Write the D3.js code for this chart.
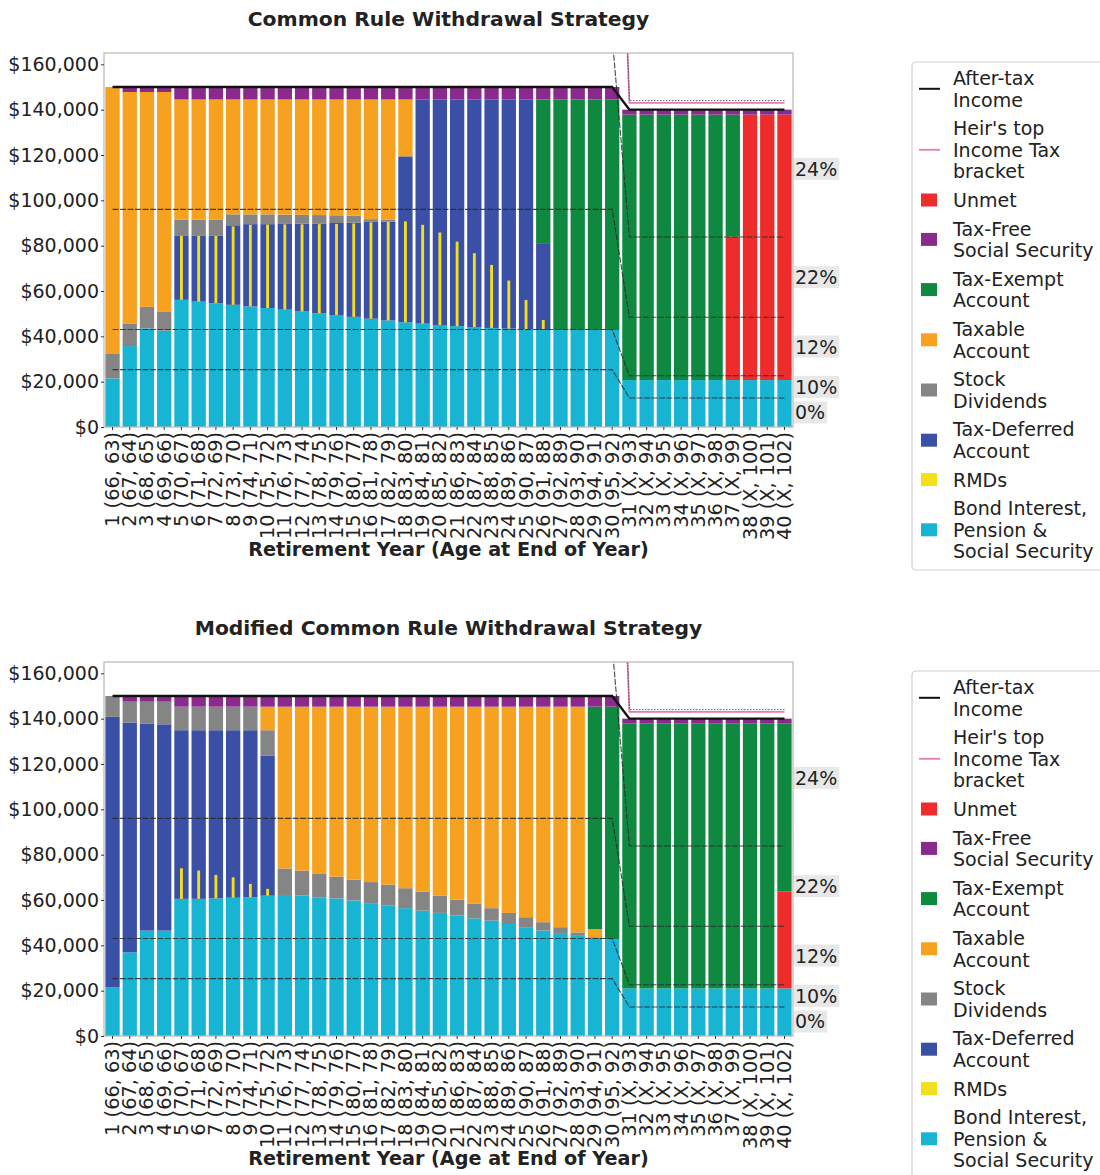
<!DOCTYPE html>
<html><head><meta charset="utf-8">
<script src="https://cdn.jsdelivr.net/npm/d3@7"></script>
<style>
body{margin:0;background:#fff}
svg{display:block}
text{font-family:"DejaVu Sans",sans-serif;fill:#222}
</style>
</head><body>
<svg id="c" width="1100" height="1175"></svg>
<script>
// ---------- tick labels ----------
const yearLabels = ["1 (66, 63)","2 (67, 64)","3 (68, 65)","4 (69, 66)","5 (70, 67)","6 (71, 68)","7 (72, 69)","8 (73, 70)","9 (74, 71)","10 (75, 72)",
"11 (76, 73)","12 (77, 74)","13 (78, 75)","14 (79, 76)","15 (80, 77)","16 (81, 78)","17 (82, 79)","18 (83, 80)","19 (84, 81)","20 (85, 82)",
"21 (86, 83)","22 (87, 84)","23 (88, 85)","24 (89, 86)","25 (90, 87)","26 (91, 88)","27 (92, 89)","28 (93, 90)","29 (94, 91)","30 (95, 92)",
"31 (X, 93)","32 (X, 94)","33 (X, 95)","34 (X, 96)","35 (X, 97)","36 (X, 98)","37 (X, 99)","38 (X, 100)","39 (X, 101)","40 (X, 102)"];
const yTicks = [0,20,40,60,80,100,120,140,160]; // thousands of dollars

// ---------- chart 1: Common Rule (values in $1000) ----------
const bondA = [21.4,35.7,43.5,42.5,56.1,55.3,54.6,53.9,53.2,52.5,51.8,51.0,50.2,49.4,48.6,47.8,47.0,46.2,45.6,45.0,44.5,44.1,43.7,43.4,43.1,42.8,42.8,42.8,42.8,42.8,20.7,20.7,20.7,20.7,20.7,20.7,20.7,20.7,20.7,20.7];
const rmdA = [0,0,0,0,28.2,29.0,29.7,34.6,36.0,36.8,37.6,38.4,39.3,40.2,41.2,42.5,43.5,44.5,43.6,40.8,37.3,32.6,27.8,21.2,12.9,4.4,0,0,0,0,0,0,0,0,0,0,0,0,0,0];
const taxDefA = [0,0,0,0,28.2,29.0,29.7,35.1,36.3,37.0,37.8,38.7,39.6,40.6,41.6,42.7,43.6,73.2,98.9,99.5,100.0,100.4,100.8,101.1,101.4,38.3,0,0,0,0,0,0,0,0,0,0,0,0,0,0];
const divA = [11.1,10.0,9.5,8.5,7.1,7.1,7.1,4.8,4.3,4.3,4.1,3.9,3.7,3.4,3.0,1.2,0.9,0,0,0,0,0,0,0,0,0,0,0,0,0,0,0,0,0,0,0,0,0,0,0];
const taxableA = [117.5,102.1,94.8,96.8,53.1,53.1,53.1,50.7,50.7,50.7,50.8,50.9,51.0,51.1,51.3,52.8,53.0,25.1,0,0,0,0,0,0,0,0,0,0,0,0,0,0,0,0,0,0,0,0,0,0];
const unmetA = [0,0,0,0,0,0,0,0,0,0,0,0,0,0,0,0,0,0,0,0,0,0,0,0,0,0,0,0,0,0,0,0,0,0,0,0,63.3,117.1,117.1,117.1];
const exemptA = [0,0,0,0,0,0,0,0,0,0,0,0,0,0,0,0,0,0,0,0,0,0,0,0,0,63.4,101.7,101.7,101.7,101.7,117.1,117.1,117.1,117.1,117.1,117.1,53.8,0,0,0];
const freeSSA = [0,2.2,2.2,2.2,5.5,5.5,5.5,5.5,5.5,5.5,5.5,5.5,5.5,5.5,5.5,5.5,5.5,5.5,5.5,5.5,5.5,5.5,5.5,5.5,5.5,5.5,5.5,5.5,5.5,5.5,2.2,2.2,2.2,2.2,2.2,2.2,2.2,2.2,2.2,2.2];

// ---------- chart 2: Modified Common Rule ----------
const bondB = [21.4,36.9,46.5,46.5,60.5,60.5,60.7,61.0,61.2,61.9,62.2,62.0,61.2,60.7,59.8,58.6,57.5,56.4,55.3,54.3,53.1,51.9,50.9,49.4,48.0,46.5,45.4,44.5,43.6,42.8,21.0,21.0,21.0,21.0,21.0,21.0,21.0,21.0,21.0,21.0];
const rmdB = [0,0,0,0,13.5,12.5,10.4,9.0,5.9,3.0,0,0,0,0,0,0,0,0,0,0,0,0,0,0,0,0,0,0,0,0,0,0,0,0,0,0,0,0,0,0];
const taxDefB = [119.4,101.4,91.4,91.0,74.4,74.4,74.2,73.9,73.7,61.7,0,0,0,0,0,0,0,0,0,0,0,0,0,0,0,0,0,0,0,0,0,0,0,0,0,0,0,0,0,0];
const divB = [9.2,9.2,9.6,10.0,10.4,10.4,10.4,10.4,10.4,11.3,11.7,11.0,10.3,9.6,9.2,9.3,9.3,8.8,8.4,7.6,7.1,6.4,5.5,4.9,4.4,3.7,2.6,1.2,0,0,0,0,0,0,0,0,0,0,0,0];
const taxableB = [0,0,0,0,0,0,0,0,0,10.4,71.4,72.3,73.8,75.0,76.3,77.4,78.5,80.1,81.6,83.4,85.1,87.0,88.9,91.0,92.9,95.1,97.3,99.6,3.6,0,0,0,0,0,0,0,0,0,0,0];
const unmetB = [0,0,0,0,0,0,0,0,0,0,0,0,0,0,0,0,0,0,0,0,0,0,0,0,0,0,0,0,0,0,0,0,0,0,0,0,0,0,0,42.7];
const exemptB = [0,0,0,0,0,0,0,0,0,0,0,0,0,0,0,0,0,0,0,0,0,0,0,0,0,0,0,0,98.1,102.5,116.8,116.8,116.8,116.8,116.8,116.8,116.8,116.8,116.8,74.1];
const freeSSB = [0,2.5,2.5,2.5,4.7,4.7,4.7,4.7,4.7,4.7,4.7,4.7,4.7,4.7,4.7,4.7,4.7,4.7,4.7,4.7,4.7,4.7,4.7,4.7,4.7,4.7,4.7,4.7,4.7,4.7,2.2,2.2,2.2,2.2,2.2,2.2,2.2,2.2,2.2,2.2];

// ---------- lines (same for both charts) ----------
const afterTax = [150,150,150,150,150,150,150,150,150,150,150,150,150,150,150,150,150,150,150,150,150,150,150,150,150,150,150,150,150,150,140,140,140,140,140,140,140,140,140,140];
const heirTop = [350,350,350,350,350,350,350,350,350,350,350,350,350,350,350,350,350,350,350,350,350,350,350,350,350,350,350,350,350,350,143,143,143,143,143,143,143,143,143,143];
const brk0 = [25.3,25.3,25.3,25.3,25.3,25.3,25.3,25.3,25.3,25.3,25.3,25.3,25.3,25.3,25.3,25.3,25.3,25.3,25.3,25.3,25.3,25.3,25.3,25.3,25.3,25.3,25.3,25.3,25.3,25.3,12.8,12.8,12.8,12.8,12.8,12.8,12.8,12.8,12.8,12.8];
const brk10 = [43,43,43,43,43,43,43,43,43,43,43,43,43,43,43,43,43,43,43,43,43,43,43,43,43,43,43,43,43,43,22.6,22.6,22.6,22.6,22.6,22.6,22.6,22.6,22.6,22.6];
const brk12 = [96,96,96,96,96,96,96,96,96,96,96,96,96,96,96,96,96,96,96,96,96,96,96,96,96,96,96,96,96,96,48.4,48.4,48.4,48.4,48.4,48.4,48.4,48.4,48.4,48.4];
const brk22 = [172,172,172,172,172,172,172,172,172,172,172,172,172,172,172,172,172,172,172,172,172,172,172,172,172,172,172,172,172,172,83.8,83.8,83.8,83.8,83.8,83.8,83.8,83.8,83.8,83.8];
const brk24 = [352,352,352,352,352,352,352,352,352,352,352,352,352,352,352,352,352,352,352,352,352,352,352,352,352,352,352,352,352,352,144,144,144,144,144,144,144,144,144,144];
const bracketRates = ["0%","10%","12%","22%","24%"];

// ---------- styling ----------
const colors = {bond:"#17b4d4", taxDef:"#3a4fa6", div:"#858585", taxable:"#f6a11f", unmet:"#ee2c2c", exempt:"#0f8840", freeSS:"#8a2a8c", rmd:"#f2e01c", heir:"#e47cb6"};
const stackOrder = ["bond","taxDef","div","taxable","unmet","exempt","freeSS"];

const legendItems = [
  {type:"line", color:"#111", lines:["After-tax","Income"]},
  {type:"line", color:colors.heir, lines:["Heir's top","Income Tax","bracket"]},
  {type:"box", color:colors.unmet, lines:["Unmet"]},
  {type:"box", color:colors.freeSS, lines:["Tax-Free","Social Security"]},
  {type:"box", color:colors.exempt, lines:["Tax-Exempt","Account"]},
  {type:"box", color:colors.taxable, lines:["Taxable","Account"]},
  {type:"box", color:colors.div, lines:["Stock","Dividends"]},
  {type:"box", color:colors.taxDef, lines:["Tax-Deferred","Account"]},
  {type:"box", color:colors.rmd, lines:["RMDs"]},
  {type:"box", color:colors.bond, lines:["Bond Interest,","Pension &","Social Security"]}
];

const svg = d3.select("#c");
const X0 = 104, X1 = 793, YT = 53, YB = 427;

function drawChart(oy, title, S, idx) {
  const g = svg.append("g").attr("transform", `translate(0,${oy})`);
  const x = d3.scaleBand().domain(d3.range(40)).range([X0, X1]).paddingInner(0.17).paddingOuter(0.08);
  const y = d3.scaleLinear().domain([0,165]).range([YB, YT]);

  const clipId = "clip"+idx;
  g.append("clipPath").attr("id", clipId).append("rect")
    .attr("x", X0).attr("y", YT).attr("width", X1-X0).attr("height", YB-YT);

  // stacked bars
  const rows = d3.range(40).map(i => {
    const r = {i};
    stackOrder.forEach(k => r[k] = S[k][i]);
    return r;
  });
  const stacked = d3.stack().keys(stackOrder)(rows);
  const bars = g.append("g");
  stacked.forEach(layer => {
    bars.append("g").attr("fill", colors[layer.key])
      .selectAll("rect").data(layer.filter(d => d[1]-d[0] > 0)).join("rect")
      .attr("x", d => x(d.data.i)).attr("width", x.bandwidth())
      .attr("y", d => y(d[1])).attr("height", d => y(d[0]) - y(d[1]));
  });
  // RMD narrow bars, starting at top of bond interest
  const rw = x.bandwidth()*0.2;
  g.append("g").attr("fill", colors.rmd)
    .selectAll("rect").data(d3.range(40).filter(i => S.rmd[i] > 0)).join("rect")
    .attr("x", i => x(i) + x.bandwidth()/2 - rw/2).attr("width", rw)
    .attr("y", i => y(S.bond[i] + S.rmd[i]))
    .attr("height", i => y(S.bond[i]) - y(S.bond[i] + S.rmd[i]));

  // lines
  const cx = i => x(i) + x.bandwidth()/2;
  const lineGen = arr => d3.line().x((d,i) => cx(i)).y(d => y(d))(arr);
  const lg = g.append("g").attr("clip-path", `url(#${clipId})`).attr("fill","none");
  [brk0, brk10, brk12, brk22].forEach(arr => {
    lg.append("path").attr("d", lineGen(arr)).attr("stroke", "#2a2a2a").attr("stroke-width", 1.1)
      .attr("stroke-dasharray", "6,1.5").attr("opacity", 0.85);
  });
  lg.append("path").attr("d", lineGen(heirTop)).attr("stroke", colors.heir).attr("stroke-width", 1.8);
  lg.append("path").attr("d", lineGen(brk24)).attr("stroke", "#333").attr("stroke-width", 1)
    .attr("stroke-dasharray", "1.5,1.5").attr("opacity", 0.8);
  lg.append("path").attr("d", lineGen(afterTax)).attr("stroke", "#111").attr("stroke-width", 2.4);

  // frame
  g.append("rect").attr("x", X0).attr("y", YT).attr("width", X1-X0).attr("height", YB-YT)
    .attr("fill","none").attr("stroke","#b8b8b8").attr("stroke-width",1.2);

  // y axis
  const ya = g.append("g").attr("transform", `translate(${X0},0)`)
    .call(d3.axisLeft(y).tickValues(yTicks).tickSize(3).tickPadding(2)
      .tickFormat(d => "$" + d3.format(",")(d*1000)));
  ya.select(".domain").remove();
  ya.selectAll("text").attr("font-size", 19).attr("fill","#222").style("font-family","DejaVu Sans");
  ya.selectAll("line").attr("stroke","#333");

  // x axis
  const xa = g.append("g").attr("transform", `translate(0,${YB})`)
    .call(d3.axisBottom(x).tickSize(3).tickFormat(i => yearLabels[i]));
  xa.select(".domain").remove();
  xa.selectAll("line").attr("stroke","#333");
  xa.selectAll("text").attr("font-size", 19.3).attr("fill","#222").style("font-family","DejaVu Sans")
    .attr("text-anchor","end").attr("dy", null).attr("y", 0)
    .attr("transform", "translate(0,5) rotate(-90)")
    .attr("dominant-baseline","central").attr("x", 0);

  // x axis label
  g.append("text").attr("x", (X0+X1)/2).attr("y", 556).attr("text-anchor","middle")
    .attr("font-size", 19.2).attr("font-weight","bold").text("Retirement Year (Age at End of Year)");
  // title
  g.append("text").attr("x", (X0+X1)/2).attr("y", 26).attr("text-anchor","middle")
    .attr("font-size", 20.3).attr("font-weight","bold").text(title);

  // bracket rate labels (midpoints of last-year brackets)
  const last = 39;
  const bounds = [0, brk0[last], brk10[last], brk12[last], brk22[last], brk24[last]];
  bracketRates.forEach((r, k) => {
    const mid = (bounds[k] + bounds[k+1]) / 2;
    const t = g.append("text").attr("x", 795).attr("y", y(mid)).attr("dominant-baseline","central")
      .attr("font-size", 19).text(r);
    const bb = t.node().getBBox();
    g.insert("rect", () => t.node()).attr("x", bb.x-1).attr("y", bb.y).attr("width", bb.width+3).attr("height", bb.height)
      .attr("fill", "#e4e4e4").attr("opacity", 0.85);
  });

  // legend
  const lgd = g.append("g");
  lgd.append("rect").attr("x", 912).attr("y", 62).attr("width", 200).attr("height", 508)
    .attr("rx", 4).attr("fill","#fff").attr("stroke","#cfcfcf").attr("stroke-width",1.2);
  let yy = 78;
  const lh = 21.6, gap = 7;
  legendItems.forEach(it => {
    const n = it.lines.length;
    const mid = yy + (n-1)*lh/2;
    if (it.type === "line") {
      lgd.append("line").attr("x1", 919).attr("x2", 940).attr("y1", mid).attr("y2", mid)
        .attr("stroke", it.color).attr("stroke-width", it.color === "#111" ? 2 : 1.8);
    } else {
      lgd.append("rect").attr("x", 921).attr("y", mid-6.5).attr("width", 16).attr("height", 13).attr("fill", it.color);
    }
    it.lines.forEach((s, j) => {
      lgd.append("text").attr("x", 953).attr("y", yy + j*lh).attr("dominant-baseline","central")
        .attr("font-size", 19).text(s);
    });
    yy += n*lh + gap;
  });
}

drawChart(0, "Common Rule Withdrawal Strategy",
  {bond:bondA, rmd:rmdA, taxDef:taxDefA, div:divA, taxable:taxableA, unmet:unmetA, exempt:exemptA, freeSS:freeSSA}, 1);
drawChart(609, "Modified Common Rule Withdrawal Strategy",
  {bond:bondB, rmd:rmdB, taxDef:taxDefB, div:divB, taxable:taxableB, unmet:unmetB, exempt:exemptB, freeSS:freeSSB}, 2);
</script>
</body></html>
